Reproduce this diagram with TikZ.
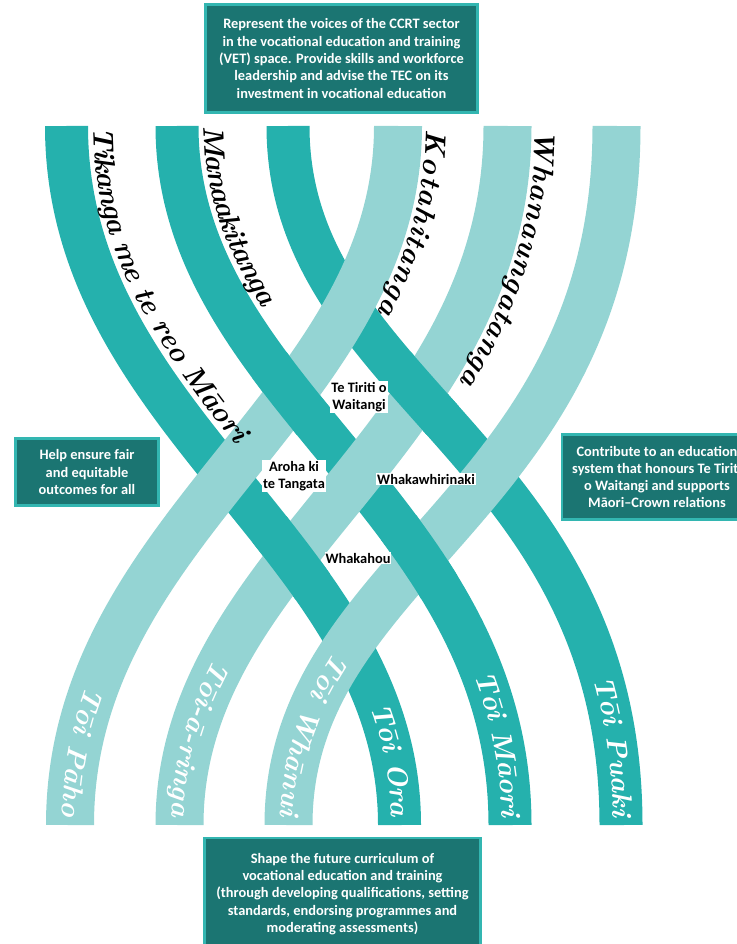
\documentclass[tikz,border=0pt]{standalone}
\usepackage{fontspec}
\setmainfont{Carlito}
\usetikzlibrary{intersections,decorations.text}
\definecolor{ribbondark}{RGB}{37,177,173}
\definecolor{ribbonlight}{RGB}{148,212,211}
\definecolor{boxfill}{RGB}{27,117,114}
\definecolor{boxedge}{RGB}{51,182,177}
\newcommand\koru{\fontfamily{lmr}\fontseries{bx}\fontshape{it}\selectfont}
% centre line of a ribbon: top x, handle at the top, handle at the foot
\newcommand\darkpath[3]{(#1,126) .. controls (#1,126+#2) and (#1+333,825-#3) .. (#1+333,825)}
\newcommand\lightpath[3]{(#1,126) .. controls (#1,126+#2) and (#1-328,825-#3) .. (#1-328,825)}
\tikzset{
  darkband/.style={draw=ribbondark, line width=43pt},
  lightband/.style={draw=ribbonlight, line width=48pt},
  goalbox/.style={draw=boxedge, fill=boxfill, line width=2.5pt, text=white, align=center,
    font=\bfseries\fontsize{14.4}{17.3}\selectfont},
  knot/.style={fill=white, inner sep=1pt, align=center, font=\bfseries\fontsize{14.4}{17.3}\selectfont}
}

\begin{document}
\begin{tikzpicture}[x=1pt, y=-1pt]
  \useasboundingbox (0,0) rectangle (736,944);

  % ribbons
  \draw[darkband, name path global=d1] \darkpath{66.5}{300}{277};
  \draw[darkband, name path global=d2] \darkpath{177}{270}{317};
  \draw[darkband, name path global=d3] \darkpath{288}{265}{376};
  \draw[lightband, name path global=l1] \lightpath{398}{277}{300};
  \draw[lightband, name path global=l2] \lightpath{507.5}{317}{270};
  \draw[lightband, name path global=l3] \lightpath{616.5}{380}{263};

  % weave: dark goes back over light at these crossings
  \path[name intersections={of=d2 and l1, by=x21}];
  \path[name intersections={of=d3 and l2, by=x32}];
  \path[name intersections={of=d1 and l2, by=x12}];
  \path[name intersections={of=d2 and l3, by=x23}];
  \foreach \c/\a/\p/\q in {x21/177/270/317, x32/288/265/376, x12/66.5/300/277, x23/177/270/317} {
    \begin{scope}
      \clip (\c) circle (42);
      \draw[darkband] \darkpath{\a}{\p}{\q};
    \end{scope}
  }

  % values along the tops
  \path[decorate, decoration={text along path, raise=27pt, text align={left indent=2pt},
    text={|\koru\fontsize{29}{29}\selectfont|Tikanga me te reo M{\=a}ori}}] \darkpath{66.5}{300}{277};
  \path[decorate, decoration={text along path, raise=27pt, text align={left indent=2pt},
    text={|\koru\fontsize{29}{29}\selectfont|Manaakitanga}}] \darkpath{177}{270}{317};
  \path[decorate, decoration={text along path, raise=28pt, text align={left indent=2pt},
    text={|\koru\fontsize{29}{29}\selectfont|Kotahitanga}}] \lightpath{398}{277}{300};
  \path[decorate, decoration={text along path, raise=28pt, text align={left indent=2pt},
    text={|\koru\fontsize{29}{29}\selectfont|Whanaungatanga}}] \lightpath{507.5}{317}{270};

  % art forms at the feet
  \path[decorate, decoration={text along path, raise=-8pt, text align={right, right indent=8pt},
    text={|\koru\fontsize{28}{28}\selectfont\color{white}|T{\=o}i P{\=a}ho}}] \lightpath{398}{277}{300};
  \path[decorate, decoration={text along path, raise=-8pt, text align={right, right indent=8pt},
    text={|\koru\fontsize{28}{28}\selectfont\color{white}|T{\=o}i-{\=a}-ringa}}] \lightpath{507.5}{317}{270};
  \path[decorate, decoration={text along path, raise=-8pt, text align={right, right indent=8pt},
    text={|\koru\fontsize{28}{28}\selectfont\color{white}|T{\=o}i Wh{\=a}nui}}] \lightpath{616.5}{380}{263};
  \path[decorate, decoration={text along path, raise=-8pt, text align={right, right indent=8pt},
    text={|\koru\fontsize{28}{28}\selectfont\color{white}|T{\=o}i Ora}}] \darkpath{66.5}{300}{277};
  \path[decorate, decoration={text along path, raise=-8pt, text align={right, right indent=8pt},
    text={|\koru\fontsize{28}{28}\selectfont\color{white}|T{\=o}i M{\=a}ori}}] \darkpath{177}{270}{317};
  \path[decorate, decoration={text along path, raise=-8pt, text align={right, right indent=8pt},
    text={|\koru\fontsize{28}{28}\selectfont\color{white}|T{\=o}i Puaki}}] \darkpath{288}{265}{376};

  % words in the gaps
  \node[knot] (tiriti) at (359,397) {Te Tiriti o\\Waitangi};
  \node[knot] (aroha) at (294,476) {Aroha ki\\te Tangata};
  \node[knot] (whakawhirinaki) at (426,479) {Whakawhirinaki};
  \node[knot] (whakahou) at (358,558) {Whakahou};

  % goals
  \node[goalbox, minimum width=272, minimum height=108] (voices) at (341.5,58.5)
    {Represent the voices of the CCRT sector\\in the vocational education and training\\(VET) space. Provide skills and workforce\\leadership and advise the TEC on its\\investment in vocational education};
  \node[goalbox, minimum width=143, minimum height=67] (fair) at (87,472)
    {Help ensure fair\\and equitable\\outcomes for all};
  \node[goalbox, minimum width=190, minimum height=85] (treaty) at (657,477)
    {Contribute to an education\\system that honours Te Tiriti\\o Waitangi and supports\\Māori–Crown relations};
  \node[goalbox, minimum width=276, minimum height=112] (curriculum) at (342.5,894)
    {Shape the future curriculum of\\vocational education and training\\(through developing qualifications, setting\\standards, endorsing programmes and\\moderating assessments)};
\end{tikzpicture}
\end{document}
